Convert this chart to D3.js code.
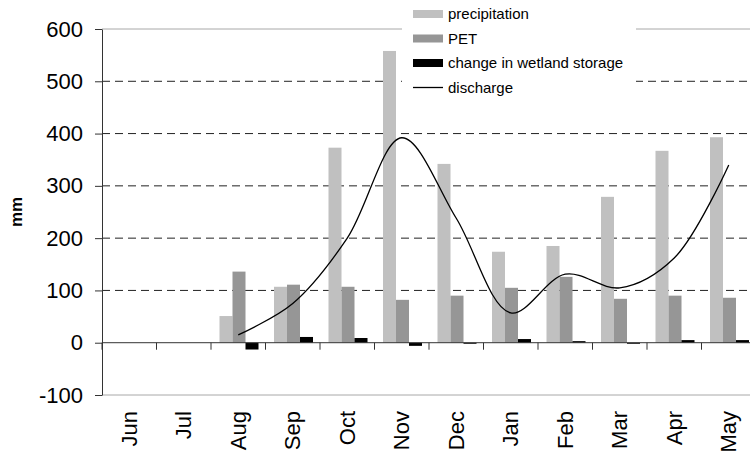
<!DOCTYPE html>
<html>
<head>
<meta charset="utf-8">
<script src="https://cdn.jsdelivr.net/npm/d3@7"></script>
<style>
  body { margin: 0; background: #fff; }
  svg { display: block; font-family: "Liberation Sans", Arial, sans-serif; }
</style>
</head>
<body>
<svg id="chart" width="750" height="459"></svg>
<script>
// monthly values (mm)
const months = ["Jun", "Jul", "Aug", "Sep", "Oct", "Nov", "Dec", "Jan", "Feb", "Mar", "Apr", "May"];
const precipitation = [null, null, 51, 107, 373, 558, 342, 174, 185, 279, 367, 393];
const pet = [null, null, 136, 111, 107, 82, 90, 105, 126, 84, 90, 86];
const storageChange = [null, null, -13, 11, 9, -6, -2, 7, 3, -2, 5, 5];
const discharge = [null, null, 15, 75, 200, 392, 238, 57, 131, 105, 162, 340];
const yTicks = [-100, 0, 100, 200, 300, 400, 500, 600];

const series = [
  { key: "precipitation", label: "precipitation", values: precipitation, color: "#c0c0c0" },
  { key: "pet", label: "PET", values: pet, color: "#969696" },
  { key: "change", label: "change in wetland storage", values: storageChange, color: "#000000" }
];

const svg = d3.select("#chart");

const x = d3.scaleBand().domain(months).range([102, 756]).padding(0);
const xSub = d3.scaleBand().domain(series.map(s => s.key)).range([8.5, 47.5]).padding(0);
const y = d3.scaleLinear().domain([-100, 600]).range([395, 29]);

// border lines at top and bottom of plot
svg.append("g")
  .selectAll("line")
  .data([600, -100])
  .join("line")
  .attr("x1", 102).attr("x2", 750)
  .attr("y1", d => y(d)).attr("y2", d => y(d))
  .attr("stroke", "#a8a8a8")
  .attr("stroke-width", 1);

// dashed grid
svg.append("g")
  .selectAll("line")
  .data([100, 200, 300, 400, 500])
  .join("line")
  .attr("x1", 102).attr("x2", 750)
  .attr("y1", d => y(d)).attr("y2", d => y(d))
  .attr("stroke", "#222")
  .attr("stroke-width", 1)
  .attr("stroke-dasharray", "8,5");

// bars
const rows = months.map((m, i) => ({ month: m, i }));
series.forEach(s => {
  svg.append("g")
    .selectAll("rect")
    .data(rows.filter(r => s.values[r.i] != null))
    .join("rect")
    .attr("x", r => x(r.month) + xSub(s.key))
    .attr("width", xSub.bandwidth())
    .attr("y", r => y(Math.max(0, s.values[r.i])))
    .attr("height", r => Math.abs(y(s.values[r.i]) - y(0)))
    .attr("fill", s.color);
});

// y axis
const yAxis = svg.append("g")
  .attr("transform", "translate(102,0)")
  .call(d3.axisLeft(y).tickValues(yTicks).tickFormat(d => String(d))
    .tickSize(7).tickSizeOuter(0).tickPadding(12));
yAxis.select(".domain").attr("stroke", "#333");
yAxis.selectAll(".tick line").attr("stroke", "#333");
yAxis.selectAll("text")
  .style("font-size", "22px")
  .style("font-family", "'Liberation Sans', Arial, sans-serif")
  .attr("fill", "#000");

// zero line + category ticks
svg.append("line")
  .attr("x1", 102).attr("x2", 750)
  .attr("y1", y(0)).attr("y2", y(0))
  .attr("stroke", "#333");
svg.append("g")
  .selectAll("line")
  .data(months)
  .join("line")
  .attr("x1", d => x(d)).attr("x2", d => x(d))
  .attr("y1", y(0)).attr("y2", y(0) + 7)
  .attr("stroke", "#333");

// month labels
const xAxis = svg.append("g")
  .attr("transform", "translate(0,411)")
  .call(d3.axisBottom(x).tickSize(0));
xAxis.select(".domain").remove();
xAxis.selectAll("text")
  .attr("transform", "rotate(-90)")
  .attr("x", 0)
  .attr("y", 0)
  .attr("dy", "0.35em")
  .attr("text-anchor", "end")
  .style("font-size", "22px")
  .style("font-family", "'Liberation Sans', Arial, sans-serif")
  .attr("fill", "#000");

// discharge line
const line = d3.line()
  .defined(d => d.v != null)
  .x(d => x(d.month) + x.bandwidth() / 2)
  .y(d => y(d.v))
  .curve(d3.curveCatmullRom.alpha(0.5));
svg.append("path")
  .datum(rows.map(r => ({ month: r.month, v: discharge[r.i] })).filter(d => d.v != null))
  .attr("fill", "none")
  .attr("stroke", "#000")
  .attr("stroke-width", 1.3)
  .attr("d", line);

// y label
svg.append("text")
  .attr("transform", "translate(22,212) rotate(-90)")
  .attr("text-anchor", "middle")
  .style("font-size", "17px")
  .style("font-weight", "bold")
  .text("mm");

// legend
const legend = svg.append("g");
legend.append("rect")
  .attr("x", 402).attr("y", 0)
  .attr("width", 234).attr("height", 100)
  .attr("fill", "#fff");
const legendItems = series.map(s => ({ label: s.label, color: s.color, type: "bar" }))
  .concat([{ label: "discharge", color: "#000", type: "line" }]);
const item = legend.selectAll("g.item")
  .data(legendItems)
  .join("g")
  .attr("class", "item")
  .attr("transform", (d, i) => `translate(413,${14 + i * 24.5})`);
item.filter(d => d.type === "bar")
  .append("rect")
  .attr("x", 0).attr("y", -4)
  .attr("width", 30).attr("height", 8)
  .attr("fill", d => d.color);
item.filter(d => d.type === "line")
  .append("line")
  .attr("x1", 0).attr("x2", 30)
  .attr("stroke", "#000").attr("stroke-width", 1.3);
item.append("text")
  .attr("x", 35)
  .attr("dy", "0.35em")
  .style("font-size", "15px")
  .text(d => d.label);
</script>
</body>
</html>
